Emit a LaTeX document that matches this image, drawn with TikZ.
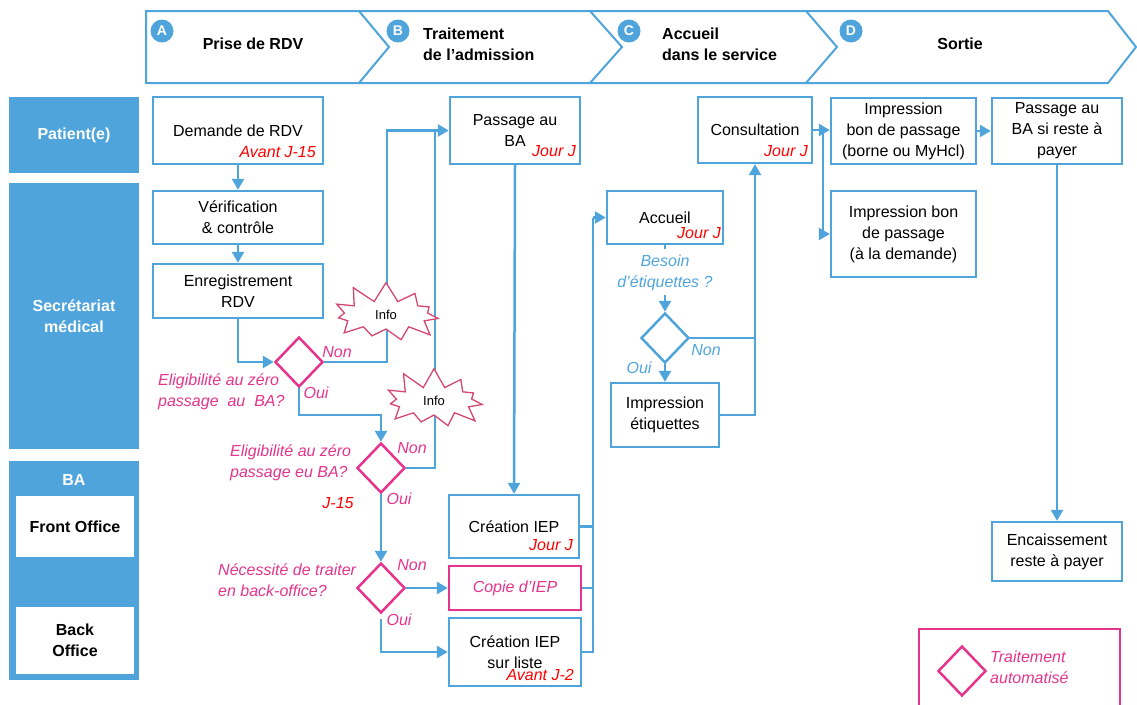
\documentclass[tikz,border=0pt]{standalone}
\usepackage{fontspec}
\setmainfont{Liberation Sans}
\usetikzlibrary{shapes.geometric,shapes.symbols,arrows.meta}
\definecolor{cblue}{RGB}{79,165,219}
\definecolor{cpink}{RGB}{228,52,140}
\definecolor{cburst}{RGB}{212,72,112}
\definecolor{cred}{RGB}{255,0,0}
\newcommand{\fsz}{\fontsize{16}{21}\selectfont}
\begin{document}
\begin{tikzpicture}[x=1pt,y=-1pt,
  every node/.style={font=\fsz, inner sep=0pt},
  hdr/.style={draw=cblue, line width=2pt, line join=miter},
  hdrtxt/.style={font=\fsz\bfseries, align=left},
  circ/.style={circle, fill=cblue, text=white, minimum size=23pt, font=\fontsize{14}{16}\selectfont\bfseries},
  lane/.style={fill=cblue, text=white, font=\fsz\bfseries, align=center},
  sublane/.style={fill=white, text=black, font=\fsz\bfseries, align=center},
  pbox/.style={draw=cblue, line width=2.4pt, fill=white, align=center},
  pkbox/.style={draw=cpink, line width=2.4pt, fill=white, align=center, text=cpink, font=\fsz\itshape},
  redlbl/.style={text=cred, font=\fsz\itshape},
  pklbl/.style={text=cpink, font=\fsz\itshape, align=left},
  bllbl/.style={text=cblue, font=\fsz\itshape, align=center},
  dia/.style={diamond, draw=cpink, line width=2.5pt, fill=white, minimum width=48pt, minimum height=50pt, inner sep=0pt},
  bdia/.style={dia, draw=cblue},
  conn/.style={draw=cblue, line width=2.5pt},
  arr/.style={conn, -{Triangle[length=11pt,width=12pt]}},
  burst/.style={starburst, draw=cburst, line width=1.3pt, fill=white, starburst points=11, starburst point height=20pt, random starburst=30, font=\fontsize{13}{15}\selectfont}
]
\useasboundingbox (0,0) rectangle (1137,704);

% header band
\draw[hdr] (146,11) -- (1108,11) -- (1136,47) -- (1108,83) -- (146,83) -- cycle;
\draw[hdr] (359,11) -- (389,47) -- (359,83);
\draw[hdr] (590,11) -- (622,47) -- (590,83);
\draw[hdr] (806,11) -- (837,47) -- (806,83);
\node[circ] (cA) at (162,31) {A};
\node[circ] (cB) at (398,31) {B};
\node[circ] (cC) at (629,31) {C};
\node[circ] (cD) at (851,31) {D};
\node[hdrtxt] (hA) at (253,44) {Prise de RDV};
\node[hdrtxt, anchor=west] (hB) at (423,44) {Traitement\\de l’admission};
\node[hdrtxt, anchor=west] (hC) at (662,44) {Accueil\\dans le service};
\node[hdrtxt] (hD) at (960,44) {Sortie};

% lanes
\node[lane, minimum width=130pt, minimum height=76pt] (lpat) at (74,135) {Patient(e)};
\node[lane, minimum width=130pt, minimum height=266pt] (lsec) at (74,316) {Secrétariat\\médical};
\node[lane, minimum width=130pt, minimum height=219pt] (lba) at (74,570.5) {};
\node[text=white, font=\fsz\bfseries] (lbat) at (74,480) {BA};
\node[sublane, minimum width=118pt, minimum height=61pt] (lfo) at (75,526.5) {Front Office};
\node[sublane, minimum width=118pt, minimum height=67pt] (lbo) at (75,640.5) {Back\\Office};

% process boxes
\node[pbox, minimum width=170pt, minimum height=67pt] (dem) at (238,130.5) {Demande de RDV};
\node[pbox, minimum width=170pt, minimum height=53pt] (verif) at (238,217.5) {Vérification\\\& contrôle};
\node[pbox, minimum width=170pt, minimum height=54pt] (enreg) at (238,291) {Enregistrement\\RDV};
\node[pbox, minimum width=130pt, minimum height=67pt] (pass) at (515,130.5) {Passage au\\BA};
\node[pbox, minimum width=130pt, minimum height=63pt] (creat) at (514,526.5) {Création IEP};
\node[pkbox, minimum width=132pt, minimum height=44pt] (copie) at (515,588) {Copie d’IEP};
\node[pbox, minimum width=132pt, minimum height=68pt] (liste) at (515,652) {Création IEP\\sur liste};
\node[pbox, minimum width=116pt, minimum height=53pt] (accueil) at (665,217.5) {Accueil};
\node[pbox, minimum width=108pt, minimum height=64pt] (etiq) at (665,415) {Impression\\étiquettes};
\node[pbox, minimum width=114pt, minimum height=66pt] (consult) at (755,130) {Consultation};
\node[pbox, minimum width=145pt, minimum height=66pt] (bon1) at (903.5,131) {Impression\\bon de passage\\(borne ou MyHcl)};
\node[pbox, minimum width=145pt, minimum height=86pt] (bon2) at (903.5,234) {Impression bon\\de passage\\(à la demande)};
\node[pbox, minimum width=130pt, minimum height=66pt] (reste) at (1057,131) {Passage au\\BA si reste à\\payer};
\node[pbox, minimum width=130pt, minimum height=59pt] (encais) at (1057,551.5) {Encaissement\\reste à payer};

% red time labels
\node[redlbl, anchor=base east] (t1) at (316,157) {Avant J-15};
\node[redlbl, anchor=base east] (t2) at (576,156) {Jour J};
\node[redlbl, anchor=base east] (t3) at (808,156) {Jour J};
\node[redlbl, anchor=base east] (t4) at (721,238) {Jour J};
\node[redlbl, anchor=base east] (t5) at (573,550) {Jour J};
\node[redlbl, anchor=base east] (t6) at (574,680) {Avant J-2};
\node[redlbl, anchor=base] (t7) at (338,508) {J-15};

% decisions
\node[dia] (d1) at (299,362) {};
\node[dia] (d2) at (381,468) {};
\node[dia] (d3) at (381,588) {};
\node[bdia] (d4) at (665,338) {};

% decision texts
\node[pklbl, anchor=west] (q1) at (158,392) {Eligibilité au zéro\\passage\ \ au\ \ BA?};
\node[pklbl, anchor=west] (q2) at (230,463) {Eligibilité au zéro\\passage eu BA?};
\node[pklbl, anchor=west] (q3) at (218,580) {Nécessité de traiter\\en back-office?};
\node[bllbl] (q4) at (665,273) {Besoin\\d’étiquettes ?};
\node[pklbl] (n1) at (337,352) {Non};
\node[pklbl] (o1) at (316,393) {Oui};
\node[pklbl] (n2) at (412,448) {Non};
\node[pklbl] (o2) at (399,499) {Oui};
\node[pklbl] (n3) at (412,565) {Non};
\node[pklbl] (o3) at (399,620) {Oui};
\node[bllbl] (n4) at (706,350) {Non};
\node[bllbl] (o4) at (639,368) {Oui};

% connector junctions
\coordinate (j1) at (387,130.5);
\coordinate (j2) at (435,130.5);
\coordinate (k1) at (299,415);
\coordinate (b0) at (593,217.5);
\coordinate (j4) at (755,338);
\coordinate (j5) at (823,130);
\coordinate (s1) at (665,249);
\coordinate (s2) at (665,295);

% connectors
\draw[arr] (dem.south) -- (verif.north);
\draw[arr] (verif.south) -- (enreg.north);
\draw[arr] (enreg.south) |- (d1.west);
\draw[arr] (d1.east) -| (j1) -- (pass.west);
\draw[conn] (d2.east) -| (j2);
\draw[arr] (d1.south) -- (k1) -| (d2.north);
\draw[arr] (d2.south) -- (d3.north);
\draw[arr] (d3.east) -- (copie.west);
\draw[arr, shorten <=5pt] (d3.south) |- (liste.west);
\draw[arr] (pass.south) -- (creat.north);
\draw[conn] (liste.east) -| (b0);
\draw[conn] (creat.east) -- (creat.east -| b0);
\draw[conn] (copie.east) -- (copie.east -| b0);
\draw[arr] (b0) -- (accueil.west);
\draw[conn] (accueil.south) -- (s1);
\draw[arr] (s2) -- (d4.north);
\draw[arr] (d4.south) -- (etiq.north);
\draw[arr] (d4.east) -- (j4) -- (consult.south);
\draw[conn] (etiq.east) -| (j4);
\draw[arr] (consult.east) -- (consult.east -| bon1.west);
\draw[arr] (j5) |- (bon2.west);
\draw[arr] (bon1.east) -- (reste.west);
\draw[arr] (reste.south) -- (encais.north);

% info bursts
\node[burst, minimum width=124pt, minimum height=68pt] (info1) at (386,315) {Info};
\node[burst, minimum width=116pt, minimum height=68pt] (info2) at (434,401) {Info};

% legend
\draw[draw=cpink, line width=1.5pt] (919,712) -- (919,629) -- (1120,629) -- (1120,712);
\node[dia] (ld) at (962,671) {};
\node[pklbl, anchor=west] (lt) at (990,667) {Traitement\\automatisé};
\end{tikzpicture}
\end{document}
